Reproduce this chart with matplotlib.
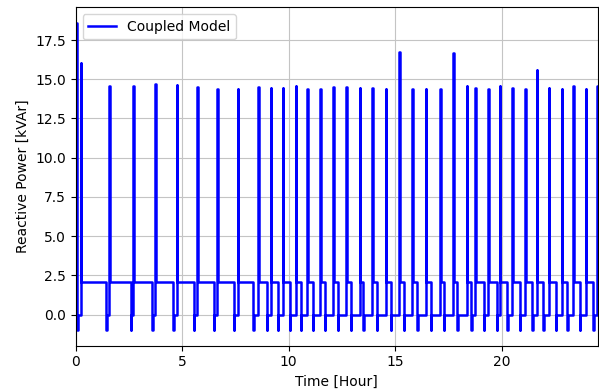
import matplotlib
matplotlib.use("Agg")
import matplotlib.pyplot as plt
import numpy as np

# spike events (hour, kVAr)
spike_time = [0.0, 0.25, 1.57, 2.70, 3.73, 4.75, 5.70, 6.65, 7.61,
              8.57, 9.15, 9.73, 10.32, 10.88, 11.49, 12.09, 12.71, 13.33, 13.93, 14.55, 15.19,
              15.81, 16.45, 17.12, 17.73, 18.35, 18.76, 19.37, 19.92, 20.49, 21.10, 21.65,
              22.21, 22.81, 23.37, 23.95, 24.48]
spike_kvar = [18.6, 16.05, 14.58, 14.60, 14.67, 14.65, 14.50, 14.39, 14.41,
              14.52, 14.45, 14.45, 14.54, 14.41, 14.39, 14.52, 14.48, 14.45, 14.45, 14.39, 16.71,
              14.39, 14.39, 14.37, 16.66, 14.58, 14.43, 14.39, 14.54, 14.45, 14.39, 15.60,
              14.43, 14.41, 14.54, 14.41, 14.54]
# dip events before each spike (hour)
dip_time = [0.07, 1.44, 2.58, 3.60, 4.58, 5.55, 6.49, 7.43,
            8.34, 8.97, 9.50, 10.06, 10.56, 11.14, 11.69, 12.31, 12.91, 13.50, 14.13, 14.79,
            15.41, 16.04, 16.67, 17.29, 17.92, 18.57, 19.16, 19.77, 20.26, 20.86, 21.44,
            21.95, 22.54, 23.08, 23.67, 24.30]
base_kvar = 2.06
dip_kvar = -1.0
idle_kvar = 0.0
t_end = 24.5

# build step series
w = 0.02
t = [spike_time[0]]
q = [spike_kvar[0]]
for td, ts, h in zip(dip_time, spike_time[1:], spike_kvar[1:]):
    t += [td, td + w, ts, ts + w]
    q += [dip_kvar, idle_kvar, h, base_kvar]
t.append(t_end)
q.append(base_kvar)

fig = plt.figure(figsize=(5.99, 3.89), dpi=100)
ax = fig.add_subplot(111)
ax.plot(t, q, drawstyle="steps-post", color="b", lw=1.8, label="Coupled Model")
ax.set_xlim(0, t_end)
ax.grid(True, color="#c4c4c4")
ax.set_xlabel("Time [Hour]")
ax.set_ylabel("Reactive Power [kVAr]")
ax.legend(loc="upper left")
fig.subplots_adjust(left=0.1264, right=0.9975, bottom=0.1113, top=0.981)
fig.savefig("out.png", dpi=100)
